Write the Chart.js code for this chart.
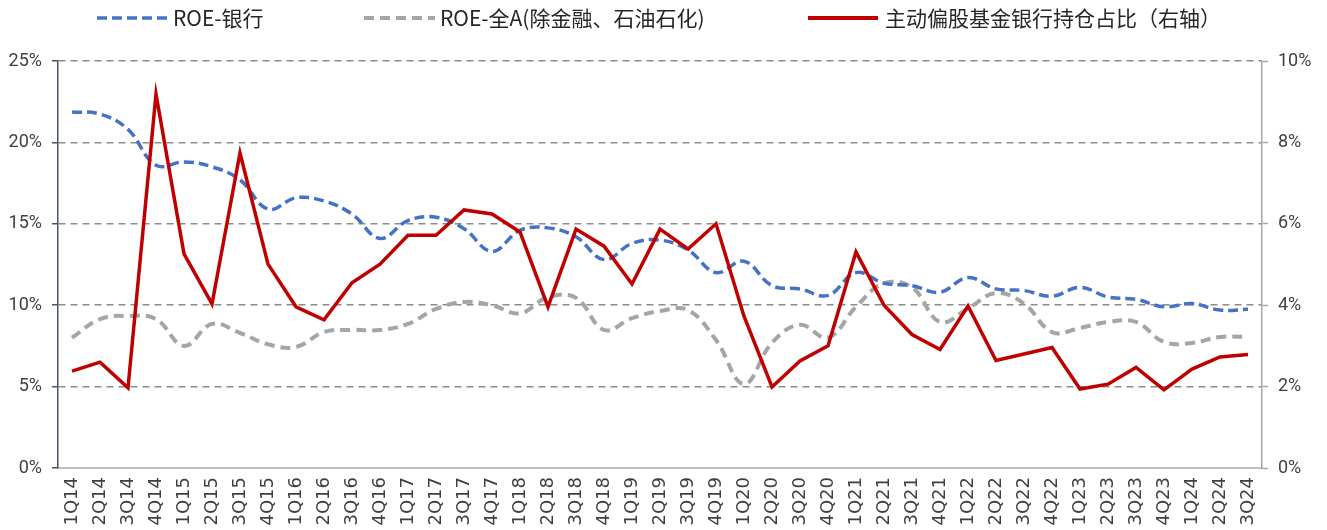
<!DOCTYPE html>
<html>
<head>
<meta charset="utf-8">
<script src="https://cdn.jsdelivr.net/npm/chart.js@4.4.1/dist/chart.umd.min.js"></script>
<style>
  html, body { margin: 0; padding: 0; background: #fff; }
  #wrap { width: 1327px; height: 530px; position: relative; }
</style>
</head>
<body>
<div id="wrap"><canvas id="roeChart"></canvas></div>
<script>
const quarters = ["1Q14","2Q14","3Q14","4Q14","1Q15","2Q15","3Q15","4Q15","1Q16","2Q16","3Q16","4Q16",
  "1Q17","2Q17","3Q17","4Q17","1Q18","2Q18","3Q18","4Q18","1Q19","2Q19","3Q19","4Q19",
  "1Q20","2Q20","3Q20","4Q20","1Q21","2Q21","3Q21","4Q21","1Q22","2Q22","3Q22","4Q22",
  "1Q23","2Q23","3Q23","4Q23","1Q24","2Q24","3Q24"];

// left axis, %
const roeBank = [21.87,21.74,20.8,18.6,18.8,18.5,17.7,15.9,16.6,16.4,15.6,14.1,
  15.2,15.4,14.7,13.3,14.6,14.75,14.2,12.8,13.8,14.0,13.4,12.0,
  12.7,11.2,11.0,10.6,12.0,11.35,11.2,10.8,11.7,11.0,10.9,10.55,
  11.1,10.5,10.36,9.9,10.1,9.7,9.75];
const roeAllA = [8.0,9.15,9.34,9.15,7.5,8.85,8.3,7.6,7.43,8.35,8.48,8.48,
  8.85,9.77,10.2,10.0,9.5,10.5,10.45,8.48,9.2,9.64,9.7,7.86,
  5.16,7.7,8.8,8.0,9.9,11.35,11.1,8.97,9.8,10.75,10.1,8.35,
  8.6,8.97,8.97,7.74,7.68,8.05,8.05];
// right axis, %
const fundBankWeight = [2.38,2.6,1.97,9.19,5.26,4.03,7.74,5.01,3.96,3.64,4.55,5.01,
  5.72,5.72,6.34,6.24,5.8,3.96,5.87,5.45,4.52,5.87,5.38,6.0,
  3.73,1.99,2.63,3.0,5.31,4.0,3.28,2.91,3.98,2.64,2.8,2.96,
  1.94,2.06,2.47,1.92,2.43,2.73,2.79];

const leftTicks = [0,5,10,15,20,25];
const rightTicks = [0,2,4,6,8,10];
const seriesNames = ["ROE-银行", "ROE-全A(除金融、石油石化)", "主动偏股基金银行持仓占比（右轴）"];

const BLUE = "#4472C4", GRAY = "#A5A5A5", RED = "#C00000";
const tickFont = { family: "Roboto, 'Noto Sans', sans-serif", size: 18 };

/* legend drawn on canvas at Excel-like spots */
const topLegend = {
  id: "topLegend",
  afterDraw(chart) {
    const c = chart.ctx;
    const items = [
      { x0: 97,  x1: 167, tx: 173, color: BLUE, dash: [10,5], w: 3.5 },
      { x0: 364, x1: 435, tx: 440, color: GRAY, dash: [10,6], w: 4 },
      { x0: 808, x1: 878, tx: 885, color: RED,  dash: [],     w: 4 }
    ];
    c.save();
    c.font = "21px 'Noto Sans CJK SC', 'Noto Sans', sans-serif";
    c.textBaseline = "middle";
    items.forEach((it, i) => {
      c.beginPath();
      c.setLineDash(it.dash);
      c.lineWidth = it.w;
      c.strokeStyle = it.color;
      c.moveTo(it.x0, 18);
      c.lineTo(it.x1, 18);
      c.stroke();
      c.setLineDash([]);
      c.fillStyle = "#262626";
      c.fillText(seriesNames[i], it.tx, 18);
    });
    c.restore();
  }
};

const ctx = document.getElementById("roeChart").getContext("2d");

new Chart(ctx, {
  type: "line",
  data: {
    labels: quarters,
    datasets: [
      {
        label: seriesNames[0],
        data: roeBank,
        yAxisID: "y",
        borderColor: BLUE,
        borderWidth: 3.5,
        borderDash: [10,5],
        tension: 0.4,
        pointRadius: 0,
        order: 1
      },
      {
        label: seriesNames[1],
        data: roeAllA,
        yAxisID: "y",
        borderColor: GRAY,
        borderWidth: 4,
        borderDash: [10,6],
        tension: 0.4,
        pointRadius: 0,
        order: 2
      },
      {
        label: seriesNames[2],
        data: fundBankWeight,
        yAxisID: "y1",
        borderColor: RED,
        borderWidth: 3.5,
        tension: 0,
        pointRadius: 0,
        order: 0
      }
    ]
  },
  options: {
    responsive: true,
    maintainAspectRatio: false,
    animation: false,
    layout: { padding: { top: 61, left: 0, right: 0, bottom: 0 } },
    plugins: {
      legend: { display: false },
      tooltip: { enabled: false }
    },
    scales: {
      x: {
        offset: true,
        grid: { display: false, drawTicks: false },
        border: { display: true, color: "#BFBFBF", width: 2 },
        ticks: {
          color: "#404040",
          font: { family: "'DejaVu Sans', sans-serif", size: 18 },
          minRotation: 90,
          maxRotation: 90,
          autoSkip: false,
          padding: 9
        },
        afterFit: (s) => { s.height = 62; }
      },
      y: {
        position: "left",
        min: 0,
        max: 25,
        afterBuildTicks: (s) => { s.ticks = leftTicks.map(v => ({ value: v })); },
        grid: {
          color: (c) => c.tick && c.tick.value === 0 ? "rgba(0,0,0,0)" : "#8C8C8C",
          lineWidth: 1.5,
          tickColor: "#44546A",
          tickLength: 6,
          tickWidth: 1.5
        },
        border: { color: "#44546A", width: 1.5, dash: [7,5] },
        ticks: {
          color: "#404040",
          font: tickFont,
          padding: 10,
          callback: (v) => v + "%"
        },
        afterFit: (s) => { s.width = 58; }
      },
      y1: {
        position: "right",
        min: 0,
        max: 10,
        afterBuildTicks: (s) => { s.ticks = rightTicks.map(v => ({ value: v })); },
        grid: {
          drawOnChartArea: false,
          tickColor: "#A6A6A6",
          tickLength: 6,
          tickWidth: 1.5
        },
        border: { color: "#A6A6A6", width: 1.5 },
        ticks: {
          color: "#404040",
          font: tickFont,
          padding: 10,
          callback: (v) => v + "%"
        },
        afterFit: (s) => { s.width = 65; }
      }
    }
  },
  plugins: [topLegend]
});
</script>
</body>
</html>
